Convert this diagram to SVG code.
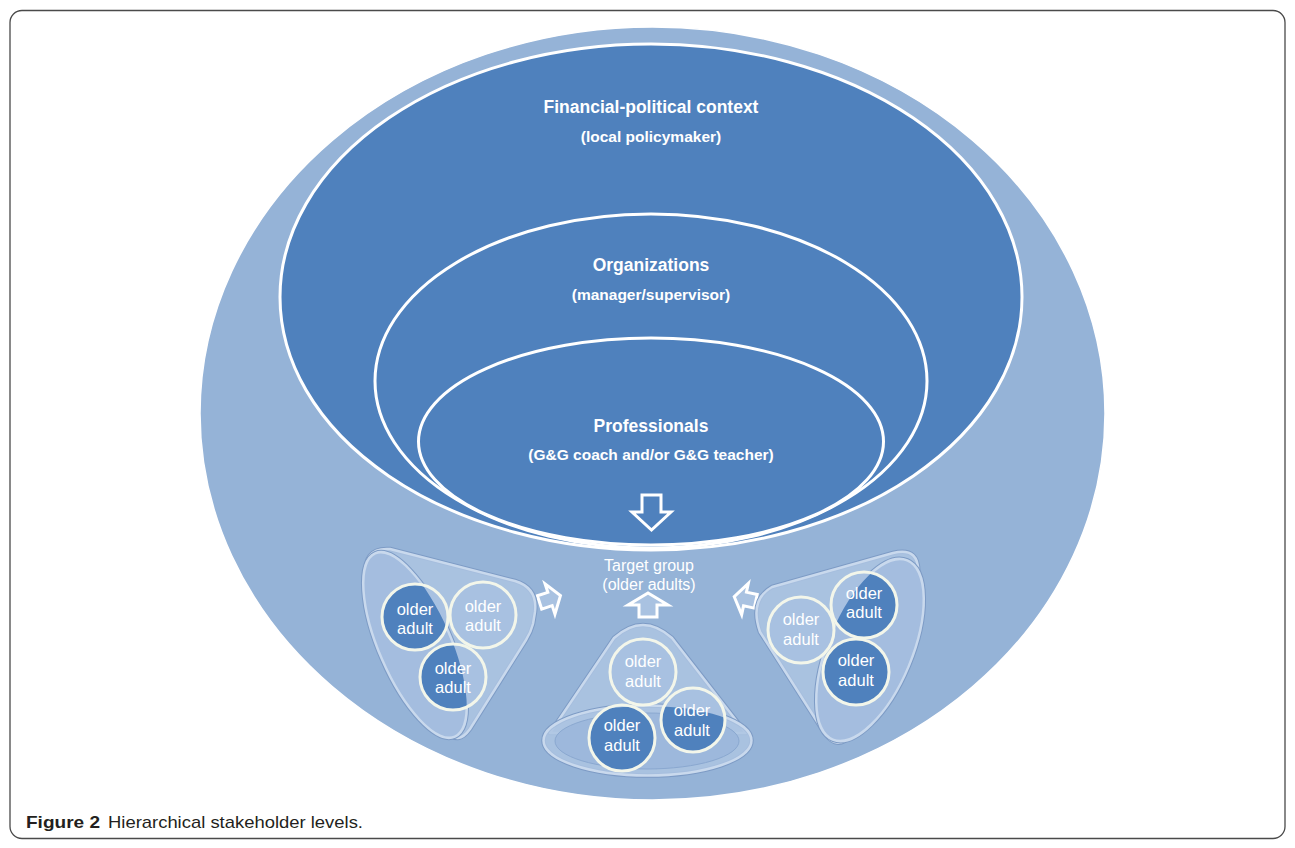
<svg xmlns="http://www.w3.org/2000/svg" width="1295" height="848" viewBox="0 0 1295 848">
<style>
.title{font-family:"Liberation Sans",Arial,sans-serif;font-weight:bold;font-size:17.5px;fill:#ffffff;text-anchor:middle}
.sub{font-family:"Liberation Sans",Arial,sans-serif;font-weight:bold;font-size:15.5px;fill:#ffffff;text-anchor:middle}
.tg{font-family:"Liberation Sans",Arial,sans-serif;font-size:16px;fill:#ffffff;text-anchor:middle}
.oa{font-family:"Liberation Sans",Arial,sans-serif;font-size:16.5px;fill:#ffffff;text-anchor:middle}
.level{fill:#4f81bd;stroke:#ffffff;stroke-width:3}
.shapeEdge{fill:none;stroke:#7d9bc5;stroke-width:4.5;stroke-linejoin:round}
.shapeBand{fill:#adc4e2;fill-opacity:0.85;stroke:#c9d9ed;stroke-width:2.5;stroke-linejoin:round}
.inEll{fill:#a4bddf;stroke:#c9d9ed;stroke-width:2.5}
.inEllEdge{fill:none;stroke:#7d9bc5;stroke-width:4.5}
.cLight{fill:#a8c1e1}
.cDark{fill:#4f81bd}
.cRing{fill:none;stroke:#f3f6ea;stroke-width:3}
.arrowW{fill:#a9c2e1;stroke:#ffffff;stroke-width:3;stroke-linejoin:miter}
.arrowD{fill:#4f81bd;stroke:#ffffff;stroke-width:3;stroke-linejoin:miter}
.cap{font-family:"Liberation Sans",Arial,sans-serif;font-size:17px;fill:#231f20}
</style>
<defs>
<clipPath id="clipL"><ellipse cx="415" cy="645" rx="100" ry="36" transform="rotate(66.5 415 645)"/></clipPath>
<clipPath id="clipR"><ellipse cx="870" cy="650" rx="97" ry="42" transform="rotate(-67.4 870 650)"/></clipPath>
<clipPath id="clipM"><ellipse cx="647" cy="740" rx="103" ry="34"/></clipPath>
</defs>
<rect x="10" y="10.5" width="1275" height="828" rx="12" ry="12" fill="#ffffff" stroke="#4a4a4a" stroke-width="1.3"/>

<g id="outer">
<ellipse cx="652.5" cy="413.5" rx="452.5" ry="386.5" fill="#95b3d7" stroke="#ffffff" stroke-width="1.5"/>
</g>
<g id="financial">
<ellipse class="level" cx="651" cy="297" rx="371" ry="253"/>
<text class="title" x="651" y="113">Financial-political context</text>
<text class="sub" x="651" y="142">(local policymaker)</text>
</g>
<g id="organizations">
<ellipse class="level" cx="651" cy="381" rx="276" ry="167"/>
<text class="title" x="651" y="271">Organizations</text>
<text class="sub" x="651" y="300">(manager/supervisor)</text>
</g>
<g id="professionals">
<ellipse class="level" cx="651" cy="441.5" rx="232.5" ry="103.5"/>
<text class="title" x="651" y="432">Professionals</text>
<text class="sub" x="651" y="460">(G&amp;G coach and/or G&amp;G teacher)</text>
</g>

<g id="connectors">
<path class="arrowD" d="M642,495 L661,495 L661,512 L671,512 L651.5,530 L632,512 L642,512 Z"/>
<path class="arrowW" d="M639,617 L639,605 L628,605 L648,593 L668,605 L657,605 L657,617 Z"/>
<path class="arrowW" transform="translate(550 599) rotate(-18)" d="M-11,-7 L0,-7 L0,-16 L11,0 L0,16 L0,7 L-11,7 Z"/>
<path class="arrowW" transform="translate(745 599) rotate(192)" d="M-11,-7 L0,-7 L0,-16 L11,0 L0,16 L0,7 L-11,7 Z"/>
</g>

<g id="target">
<text class="tg" x="649" y="571">Target group</text>
<text class="tg" x="649" y="590">(older adults)</text>
</g>

<g id="cluster-left">
<path class="shapeEdge" d="M390,549 L515,581 Q538,588 535,612 L533,624 Q531,632 526,640 L470,729 Q458,746 446,731 Q392,660 367,580 Q361,547 390,549 Z"/>
<path class="shapeBand" d="M390,549 L515,581 Q538,588 535,612 L533,624 Q531,632 526,640 L470,729 Q458,746 446,731 Q392,660 367,580 Q361,547 390,549 Z"/>
<ellipse class="inEllEdge" cx="415" cy="645" rx="100" ry="36" transform="rotate(66.5 415 645)"/>
<ellipse class="inEll" cx="415" cy="645" rx="100" ry="36" transform="rotate(66.5 415 645)"/>
<circle class="cLight" cx="415" cy="617" r="33"/>
<circle class="cLight" cx="483" cy="615" r="33"/>
<circle class="cLight" cx="453" cy="677" r="33"/>
<g clip-path="url(#clipL)">
<circle class="cDark" cx="415" cy="617" r="33"/>
<circle class="cDark" cx="483" cy="615" r="33"/>
<circle class="cDark" cx="453" cy="677" r="33"/>
</g>
<circle class="cRing" cx="415" cy="617" r="33"/>
<circle class="cRing" cx="483" cy="615" r="33"/>
<circle class="cRing" cx="453" cy="677" r="33"/>
<text class="oa" x="415" y="615">older</text><text class="oa" x="415" y="634">adult</text>
<text class="oa" x="483" y="612">older</text><text class="oa" x="483" y="631">adult</text>
<text class="oa" x="453" y="674">older</text><text class="oa" x="453" y="693">adult</text>
</g>

<g id="cluster-middle">
<path class="shapeEdge" d="M550,733 L614,638 Q643,612 672,638 L746,733 Z"/>
<path class="shapeBand" d="M550,733 L614,638 Q643,612 672,638 L746,733 Z"/>
<ellipse class="inEllEdge" cx="647.5" cy="740.5" rx="104" ry="35"/>
<ellipse class="shapeBand" cx="647.5" cy="740.5" rx="104" ry="35"/>
<ellipse cx="647" cy="741" rx="92" ry="28" fill="#9db8dc" stroke="#8aa8d0" stroke-width="1"/>
<circle class="cLight" cx="643" cy="672" r="33"/>
<circle class="cLight" cx="622" cy="738" r="33"/>
<circle class="cLight" cx="693" cy="720" r="32"/>
<g clip-path="url(#clipM)">
<circle class="cDark" cx="643" cy="672" r="33"/>
<circle class="cDark" cx="622" cy="738" r="33"/>
<circle class="cDark" cx="693" cy="720" r="32"/>
</g>
<circle class="cRing" cx="643" cy="672" r="33"/>
<circle class="cRing" cx="622" cy="738" r="33"/>
<circle class="cRing" cx="693" cy="720" r="32"/>
<text class="oa" x="643" y="667">older</text><text class="oa" x="643" y="687">adult</text>
<text class="oa" x="622" y="731">older</text><text class="oa" x="622" y="751">adult</text>
<text class="oa" x="692" y="716">older</text><text class="oa" x="692" y="736">adult</text>
</g>

<g id="cluster-right">
<path class="shapeEdge" d="M772,587 L893,553 Q921,546 918,577 Q905,662 851,735 Q838,751 825,734 L760,632 Q749,600 772,587 Z"/>
<path class="shapeBand" d="M772,587 L893,553 Q921,546 918,577 Q905,662 851,735 Q838,751 825,734 L760,632 Q749,600 772,587 Z"/>
<ellipse class="inEllEdge" cx="870" cy="650" rx="97" ry="42" transform="rotate(-67.4 870 650)"/>
<ellipse class="inEll" cx="870" cy="650" rx="97" ry="42" transform="rotate(-67.4 870 650)"/>
<circle class="cLight" cx="801" cy="630" r="33"/>
<circle class="cLight" cx="864" cy="605" r="33"/>
<circle class="cLight" cx="856" cy="672" r="33"/>
<g clip-path="url(#clipR)">
<circle class="cDark" cx="864" cy="605" r="33"/>
<circle class="cDark" cx="856" cy="672" r="33"/>
</g>
<circle class="cRing" cx="801" cy="630" r="33"/>
<circle class="cRing" cx="864" cy="605" r="33"/>
<circle class="cRing" cx="856" cy="672" r="33"/>
<text class="oa" x="801" y="625">older</text><text class="oa" x="801" y="645">adult</text>
<text class="oa" x="864" y="599">older</text><text class="oa" x="864" y="618">adult</text>
<text class="oa" x="856" y="666">older</text><text class="oa" x="856" y="686">adult</text>
</g>

<g id="caption">
<text class="cap" x="26" y="828" font-weight="bold" textLength="74" lengthAdjust="spacingAndGlyphs">Figure 2</text>
<text class="cap" x="108" y="828" textLength="255" lengthAdjust="spacingAndGlyphs">Hierarchical stakeholder levels.</text>
</g>
</svg>
